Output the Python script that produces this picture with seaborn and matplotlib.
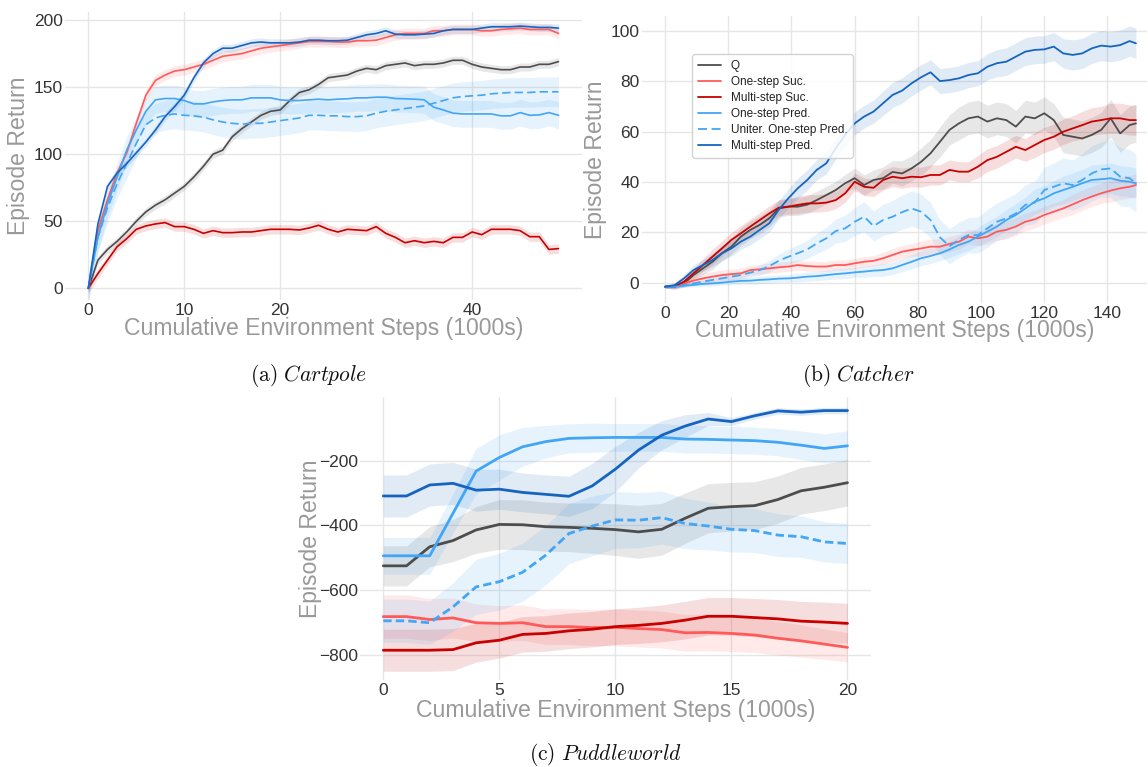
import numpy as np
import pandas as pd
import matplotlib
matplotlib.use("Agg")
import matplotlib.pyplot as plt
import seaborn as sns

# ---------------- data ----------------
series_names = ["Q", "One-step Suc.", "Multi-step Suc.", "One-step Pred.",
                "Uniter. One-step Pred.", "Multi-step Pred."]

# Cartpole (x in 1000s of steps)
cp_x = list(range(50))
cp_q = [0, 21, 29, 35, 42, 50, 57, 62, 66, 71,
        76, 83, 91, 100, 103, 113, 119, 124, 129, 132,
        133, 140, 146, 148, 152, 157, 158, 159, 162, 164,
        163, 166, 167, 168, 166, 167, 167, 168, 170, 170,
        167, 165, 164, 163, 163, 165, 165, 167, 167, 169]
cp_one_suc = [0, 43, 66, 86, 101, 123, 144, 155, 159, 162,
              163, 165, 167, 170, 173, 174, 175, 177, 179, 180,
              181, 182, 183, 184, 184, 184, 183.6, 183.6, 184.6, 184.6,
              185, 187, 189, 190, 190, 190, 192, 192, 193, 193,
              193, 192, 192, 193, 193.5, 194, 193, 193, 193, 190]
cp_multi_suc = [0, 11, 21, 31, 37, 44, 46.5, 48, 49, 46,
                46, 44, 41, 43, 41.5, 41.5, 42, 42, 43, 44,
                44, 44, 43.5, 45, 47, 44, 42, 44, 43.5, 43,
                46, 41, 38, 34, 35.5, 34, 35, 34, 38, 38,
                42, 40, 44, 44, 44, 43, 38.5, 38.5, 29, 29.6]
cp_one_pred = [0, 38, 63, 83, 103, 118, 132, 140.5, 141.5, 141.5,
               140, 137.5, 137.5, 139, 140, 140.5, 140.5, 142, 142, 142,
               140.5, 140, 140, 140.5, 141, 140.5, 141, 141.3, 142, 142,
               142.5, 142.5, 141.5, 141.3, 141, 140.5, 135, 133, 130.6, 130,
               130, 130, 130, 128.6, 128.6, 131, 129, 129.3, 131, 129]
cp_uniter = [0, 38, 60, 78, 93, 108, 122, 127, 129, 130,
             129, 128.6, 127.6, 125.6, 124, 123, 122.4, 123, 123, 124,
             125, 126, 127, 129, 129, 128.6, 128.6, 128, 128, 128.6,
             130.6, 132, 133, 134, 135, 136, 138, 140, 142, 143,
             143.5, 144, 145, 145.5, 146, 146, 146, 146.5, 146.5, 146.5]
cp_multi_pred = [0, 48, 76, 86, 93, 101, 109, 118, 128, 135.5,
                 144, 157, 168, 175, 179, 179, 181, 183, 183.6, 183,
                 183, 183, 183.6, 185, 185, 184.6, 184.6, 185, 187, 189,
                 190, 192, 189.5, 189, 189, 189.5, 190, 192, 193, 193,
                 193, 194, 195, 195, 195, 195.5, 195, 194.5, 194.5, 194]
cp_band = [3, 4, 3.5, 10, 11, 3]

# Catcher
ct_x = list(range(0, 150, 3)) + [149]
ct_q = [-1.6, -1.6, -0.3, 3, 5.7, 8.3, 11.7, 14.3, 18.3, 21, 23, 25.6, 29.5,
        30.2, 30.2, 31, 32.8, 34.8, 36.8, 39.5, 41.5, 38.8, 40.8, 41.5, 44, 43.4,
        45.4, 48, 51.4, 56, 60.7, 63.3, 65.3, 66, 64, 65.3, 64.6, 62, 66,
        65.3, 67.3, 64.6, 58.7, 58, 57.3, 58.7, 60.7, 65.3, 59.3, 62.6, 63.3]
ct_one_suc = [-1.6, -1.3, -0.3, 0.8, 1.7, 2.4, 3, 3.4, 3.7, 5, 5.3, 5.7, 6.1,
              6.4, 7, 6.6, 6.4, 6.4, 7, 7, 7.7, 8.3, 8.7, 9.7, 11, 12.3,
              13, 13.6, 14.3, 14.3, 15.4, 16.3, 18.3, 17.6, 18.3, 20.3, 21, 22.3, 24.2,
              25.2, 26.9, 28.2, 29.5, 31.1, 32.8, 34.2, 35.5, 36.6, 37.5, 38.1, 38.8]
ct_multi_suc = [-1.6, -1.6, 0.4, 3.7, 7, 10.3, 13.6, 17, 19.6, 22.3, 24.9, 27.5, 29.8,
                30.2, 30.9, 31.5, 31.5, 31.8, 32.8, 35.5, 40.1, 38.1, 37.7, 40.8, 42.1, 41.5,
                42.1, 41.9, 42.8, 42.8, 44.8, 44.1, 44.1, 46.1, 48.7, 50, 52, 54, 52.7,
                54.7, 56.7, 58, 60, 61.3, 62.6, 64, 64.6, 65.3, 65.3, 64.6, 64.6]
ct_one_pred = [-1.6, -1.6, -1.2, -0.9, -0.5, -0.3, 0, 0.4, 0.7, 0.8, 1.1, 1.3, 1.6,
               1.7, 2, 2.4, 2.6, 3, 3.4, 3.7, 4.1, 4.4, 4.8, 5, 5.7, 7,
               8.3, 9.7, 10.6, 11.7, 13.2, 15, 16.3, 18.3, 20.3, 22.3, 24.9, 26.9, 29.5,
               32.2, 33.5, 35.5, 36.8, 38.1, 39.5, 40.8, 41.1, 41.5, 40.5, 40.1, 39.5]
ct_uniter = [-1.6, -1.6, -0.9, -0.3, 0.4, 1.1, 1.7, 2.4, 3, 4, 5, 6.6, 8.7,
             10.3, 11.7, 13.2, 15.6, 17.6, 20.5, 21.6, 24.2, 26.2, 22.5, 24.9, 26.2, 28,
             29.5, 28.2, 24.9, 18, 14.5, 17, 18.9, 18.9, 21.6, 24.2, 25.6, 27.5, 30.9,
             31.8, 36.8, 38.1, 39.5, 38.8, 40.8, 43.4, 45, 45.4, 42.1, 41.5, 39.5]
ct_multi_pred = [-1.6, -1, 1.7, 5, 7, 9, 11.7, 13.6, 16.3, 18.3, 21, 23.6, 29,
                 33.5, 37.5, 40.8, 44.8, 47.4, 53.4, 58.7, 63.3, 66, 68, 71.3, 74.6, 76.3,
                 79.2, 81.6, 83.6, 80.1, 80.5, 81.2, 82.5, 83.2, 85.8, 87.2, 87.8, 89.8, 91.8,
                 92.5, 92.7, 93.8, 91.1, 90.5, 91.1, 93.1, 94.2, 93.8, 94.4, 96, 95.1]
# band half-widths (Catcher), one value per point
ct_q_sd = [0.5, 1, 1.5, 2, 2.5, 3, 3, 3, 3.5, 3.5, 3.5, 3.5, 3.5,
           3.5, 3.5, 3.5, 3.5, 3.5, 3.5, 3.5, 4, 4, 4, 4.5, 4.5, 5,
           5, 5.5, 5.5, 6, 6, 6.5, 6.5, 6.5, 6.5, 6.5, 6.5, 6.5, 6.5,
           6.5, 6.5, 6.5, 7, 7, 7, 7, 7, 7.5, 7.5, 7.5, 7.5]
ct_one_suc_sd = [0.5, 1, 1.5, 1.5, 2, 2, 2, 2, 2, 2, 2, 2, 2,
                 2, 2, 2, 2, 2, 2, 2, 2, 2, 2, 2.5, 2.5, 2.5,
                 2.5, 3, 3, 3, 3, 3, 3, 3, 3, 3.5, 3.5, 3.5, 3.5,
                 3.5, 3.5, 3.5, 3.5, 4, 4, 4, 4, 4.5, 4.5, 4.5, 4.5]
ct_multi_suc_sd = [0.5, 1, 1.5, 2, 2.5, 3, 3, 3, 3, 3, 3, 3, 3,
                   3, 3.5, 3.5, 3.5, 3.5, 3.5, 3.5, 3.5, 3.5, 3.5, 4, 4, 4,
                   4, 4, 4, 4, 4, 4, 4, 4.5, 4.5, 4.5, 4.5, 4.5, 4.5,
                   5, 5, 5, 5, 5, 5.5, 5.5, 5.5, 6, 6, 6, 6]
ct_one_pred_sd = [0.5, 0.5, 0.7, 0.8, 1, 1, 1, 1.2, 1.2, 1.3, 1.5, 1.5, 1.5,
                  1.5, 1.7, 1.8, 1.8, 1.9, 2, 2, 2, 2.2, 2.3, 2.5, 2.5, 2.7,
                  2.8, 3, 3, 3, 3.2, 3.5, 3.5, 3.7, 4, 4, 4.2, 4.5, 4.5,
                  5, 5, 5, 5.5, 5.5, 5.5, 6, 6, 6, 6, 6, 6]
ct_uniter_sd = [0.5, 0.5, 0.7, 0.8, 1, 1.2, 1.3, 1.5, 1.7, 1.8, 2, 2.3, 2.7,
                3, 3.3, 3.6, 4, 4.4, 4.8, 5.2, 5.6, 6, 6, 6.2, 6.5, 6.8,
                7, 7, 7, 7, 7, 7, 7, 7.2, 7.5, 7.5, 7.8, 8, 8,
                8.5, 9, 9.5, 10, 10, 10.5, 11, 11, 11.5, 11.5, 11.5, 11.5]
ct_multi_pred_sd = [0.8, 1, 1.5, 2, 2.3, 2.6, 3, 3, 3, 3.2, 3.4, 3.5, 3.6,
                    3.8, 4, 4, 4, 4.2, 4.3, 4.5, 4.5, 4.5, 4.6, 4.8, 5, 5,
                    5, 5, 5, 5, 5, 5, 5, 5, 5.2, 5.4, 5.5, 5.5, 5.5,
                    5.5, 5.5, 5.6, 5.8, 6, 6, 6, 6, 6, 6, 6, 6]

# Puddleworld
pw_x = list(range(21))
pw_q = [-525, -525, -466, -447, -414, -397, -398, -404, -406, -409, -413,
        -420, -412, -378, -347, -342, -339, -320, -293, -282, -268]
pw_one_suc = [-682, -682, -691, -686, -701, -703, -701, -713, -713, -716, -715,
              -719, -722, -732, -731, -734, -739, -749, -757, -767, -777]
pw_multi_suc = [-786, -786, -786, -784, -763, -755, -737, -734, -726, -721, -713,
                -709, -703, -693, -681, -681, -685, -689, -696, -699, -703]
pw_one_pred = [-494, -494, -494, -363, -232, -190, -157, -141, -131, -129, -128,
               -128, -128, -133, -134, -136, -138, -143, -152, -162, -154]
pw_uniter = [-695, -695, -701, -652, -590, -574, -545, -492, -425, -402, -383,
             -384, -376, -394, -402, -412, -416, -430, -435, -451, -456]
pw_multi_pred = [-309, -309, -275, -270, -291, -288, -298, -304, -310, -278, -226,
                 -167, -121, -93, -71, -79, -61, -46, -50, -45, -45]
pw_q_sd = [62, 62, 62, 65, 72, 77, 77, 76, 75, 78, 80, 82, 80, 78, 76, 75, 74, 73, 72, 72, 72]
pw_one_suc_sd = [67, 67, 65, 62, 58, 55, 55, 55, 55, 56, 57, 57, 57, 57, 57, 56, 54, 52, 50, 47, 45]
pw_multi_suc_sd = [65, 65, 65, 65, 60, 55, 55, 55, 55, 55, 55, 56, 57, 58, 58, 58, 59, 60, 61, 62, 62]
pw_one_pred_sd = [57, 57, 57, 60, 70, 70, 60, 50, 45, 45, 43, 43, 43, 43, 42, 42, 42, 42, 44, 45, 46]
pw_uniter_sd = [67, 67, 67, 75, 85, 88, 90, 92, 93, 92, 88, 85, 82, 78, 74, 70, 68, 66, 64, 62, 62]
pw_multi_pred_sd = [65, 65, 65, 65, 65, 62, 60, 60, 62, 70, 70, 55, 45, 35, 20, 12, 10, 10, 10, 10, 10]

# ---------------- style ----------------
colors = ["#4d4d4d", "#ff5a5a", "#c80000", "#42a5f5", "#42a5f5", "#1565c0"]
styles = ["-", "-", "-", "-", "--", "-"]

sns.set_theme(style="whitegrid")
plt.rcParams["font.family"] = ["Liberation Sans", "DejaVu Sans"]
plt.rcParams["mathtext.fontset"] = "cm"
plt.rcParams["grid.color"] = "#e6e6e6"
plt.rcParams["grid.linewidth"] = 1.0

W, H = 1148, 767
fig = plt.figure(figsize=(W / 100, H / 100), dpi=100)


def add_axes_px(left, top, right, bottom):
    return fig.add_axes([left / W, 1 - bottom / H, (right - left) / W, (bottom - top) / H])


def draw(ax, x, ys, sds, lw, dash):
    for i, (y, sd) in enumerate(zip(ys, sds)):
        y = np.asarray(y, float)
        sd = np.asarray(sd, float) * np.ones_like(y)
        ax.fill_between(x, y - sd, y + sd, color=colors[i], alpha=0.13, linewidth=0)
    for i, y in enumerate(ys):
        df = pd.DataFrame({"x": x, "y": y})
        ls = (0, dash) if styles[i] == "--" else "-"
        sns.lineplot(data=df, x="x", y="y", ax=ax, color=colors[i], linewidth=lw,
                     linestyle=ls, label=series_names[i], legend=False)
    for sp in ax.spines.values():
        sp.set_visible(False)
    ax.tick_params(axis="both", length=0, labelsize=12.5, labelcolor="#333333")
    ax.tick_params(axis="y", pad=1.5)
    ax.tick_params(axis="x", pad=2)
    ax.set_xlabel("Cumulative Environment Steps (1000s)", fontsize=16.6, color="#999999")
    ax.set_ylabel("Episode Return", fontsize=16.6, color="#999999")
    if ax.get_legend() is not None:
        ax.get_legend().remove()


# Cartpole
ax1 = add_axes_px(64.8, 12, 582, 300.4)
draw(ax1, cp_x, [cp_q, cp_one_suc, cp_multi_suc, cp_one_pred, cp_uniter, cp_multi_pred],
     cp_band, 1.2, (5, 2.5))
ax1.set_xlim(-2.45, 51.45)
ax1.set_ylim(-9, 206)
ax1.set_xticks([0, 10, 20, 40])
ax1.set_yticks([0, 50, 100, 150, 200])
ax1.xaxis.set_label_coords(0.5, -0.056)
ax1.yaxis.set_label_coords(-0.067, 0.5)

# Catcher
ax2 = add_axes_px(641.5, 15.9, 1147, 302.8)
draw(ax2, ct_x, [ct_q, ct_one_suc, ct_multi_suc, ct_one_pred, ct_uniter, ct_multi_pred],
     [ct_q_sd, ct_one_suc_sd, ct_multi_suc_sd, ct_one_pred_sd, ct_uniter_sd, ct_multi_pred_sd],
     1.3, (5, 2.5))
ax2.set_xlim(-7.45, 152.5)
ax2.set_ylim(-8, 106)
ax2.set_xticks([0, 20, 40, 60, 80, 100, 120, 140])
ax2.set_yticks([0, 20, 40, 60, 80, 100])
ax2.xaxis.set_label_coords(0.5, -0.056)
ax2.yaxis.set_label_coords(-0.068, 0.5)
handles, labels = ax2.get_legend_handles_labels()
leg = ax2.legend(handles[:6], labels[:6], loc="upper left", bbox_to_anchor=(0.1005, 0.866),
                 borderaxespad=0, fontsize=8.5, handlelength=2.0, handletextpad=0.8,
                 labelspacing=0.35, frameon=True, fancybox=True, framealpha=0.85,
                 borderpad=0.45)
leg.get_frame().set_edgecolor("#cccccc")
for t in leg.get_texts():
    t.set_color("#222222")

# Puddleworld
ax3 = add_axes_px(360.1, 397, 870.7, 680)
draw(ax3, pw_x, [pw_q, pw_one_suc, pw_multi_suc, pw_one_pred, pw_uniter, pw_multi_pred],
     [pw_q_sd, pw_one_suc_sd, pw_multi_suc_sd, pw_one_pred_sd, pw_uniter_sd, pw_multi_pred_sd],
     2.0, (3, 1.5))
ax3.set_xlim(-1, 21)
ax3.set_ylim(-878, -3)
ax3.set_xticks([0, 5, 10, 15, 20])
ax3.set_yticks([-800, -600, -400, -200])
ax3.xaxis.set_label_coords(0.5, -0.066)
ax3.yaxis.set_label_coords(-0.074, 0.5)

# Captions
fig.text(308 / W, 1 - 376 / H, r"$\mathrm{(a)}\ \mathit{Cartpole}$", ha="center", va="center",
         fontsize=15.5, color="#111111")
fig.text(858 / W, 1 - 376 / H, r"$\mathrm{(b)}\ \mathit{Catcher}$", ha="center", va="center",
         fontsize=15.5, color="#111111")
fig.text(605 / W, 1 - 754 / H, r"$\mathrm{(c)}\ \mathit{Puddleworld}$", ha="center", va="center",
         fontsize=15.5, color="#111111")

fig.savefig("out.png", dpi=100, facecolor="white")
